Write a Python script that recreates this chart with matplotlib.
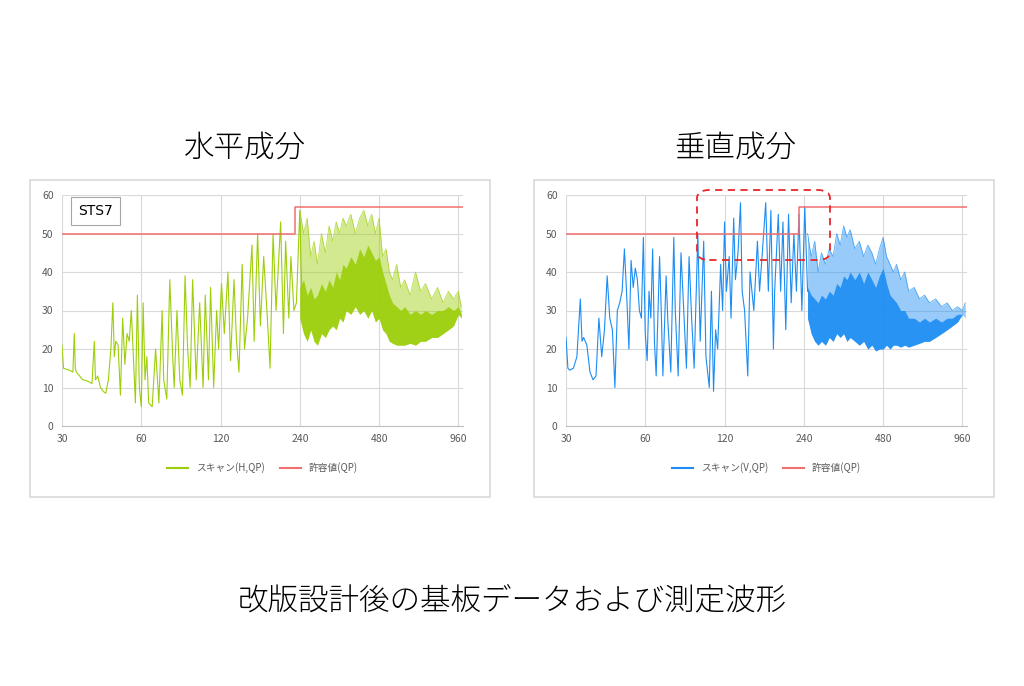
import matplotlib.pyplot as plt
from matplotlib.patches import Rectangle, FancyBboxPatch
from matplotlib.ticker import FixedLocator, NullFormatter

plt.rcParams["font.family"] = ["Noto Sans CJK JP", "DejaVu Sans"]

# ---- data ----
tick_freqs = [30, 60, 120, 240, 480, 960]
limit_freq = [30, 230, 230, 1000]
limit_level = [50, 50, 57, 57]

# horizontal scan, discrete part (MHz / dBuV)
h_freq = [30, 30.4, 31, 32, 33, 33.4, 33.7, 34, 35, 36,
          37, 38, 39, 39.8, 40.2, 41, 42, 43, 44, 45,
          46, 46.8, 47.4, 48, 49, 50, 51, 52, 53, 54,
          55, 56, 57, 58, 59, 60, 61, 62, 63, 64,
          66, 68, 70, 72, 73, 75, 77, 79, 80, 82,
          84, 86, 88, 90, 92, 94, 97, 100, 103, 105,
          108, 110, 113, 116, 118, 121, 124, 128, 131, 135,
          138, 141, 145, 148, 152, 158, 161, 166, 170, 175,
          180, 185, 190, 195, 203, 208, 212, 218, 222, 228,
          233, 240, 245]
h_level = [21, 15, 14.8, 14.5, 14, 24, 15, 14, 13, 12,
           11.8, 11.5, 11, 22, 12, 13, 10, 9, 8.5, 12,
           20, 32, 18, 22, 21, 8, 28, 16, 24, 22,
           30, 18, 6, 34, 10, 5, 32, 12, 18, 6,
           5, 20, 6, 30, 12, 7, 38, 18, 10, 30,
           12, 8, 39, 20, 10, 38, 12, 32, 10, 34,
           12, 36, 10, 30, 20, 37, 24, 40, 17, 38,
           22, 14, 42, 20, 28, 47, 22, 50, 26, 44,
           30, 15, 50, 30, 53, 24, 48, 28, 44, 30,
           32, 56, 30]
# dense part: upper / lower envelope and the dark core band
h_env_f = [240, 248, 256, 264, 272, 280, 290, 300, 310, 320,
           330, 340, 350, 360, 375, 390, 405, 420, 435, 450,
           465, 480, 495, 510, 525, 540, 560, 580, 600, 630,
           660, 690, 720, 760, 800, 840, 880, 920, 960, 985]
h_env_hi = [56, 50, 54, 44, 48, 42, 50, 45, 52, 48,
            53, 50, 54, 52, 55, 50, 54, 56, 52, 55,
            50, 54, 44, 46, 40, 38, 42, 36, 38, 34,
            40, 35, 37, 33, 36, 32, 35, 33, 35, 31]
h_env_lo = [28, 24, 22, 25, 22, 21, 24, 23, 25, 26,
            25, 28, 27, 30, 29, 31, 29, 30, 28, 30,
            27, 28, 25, 24, 22, 21.5, 21, 21, 21, 21.5,
            21, 22, 22, 23, 23, 24, 25, 26, 29, 28]
h_core_hi = [36, 38, 34, 36, 33, 34, 37, 35, 38, 36,
             40, 38, 42, 41, 44, 42, 46, 44, 47, 45,
             43, 44, 40, 37, 34, 32, 31, 30, 31, 29,
             30, 29, 30, 29, 30, 30, 31, 30, 31, 29]

# vertical scan, discrete part
v_freq = [30, 30.5, 31, 32, 33, 34, 34.5, 35, 36, 37,
          38, 39, 40, 41, 42, 43, 44, 45, 46, 47,
          48, 49, 50, 51, 52, 53, 54, 55, 56, 57,
          58, 59, 60, 61, 62, 63, 64, 65, 66, 68,
          69, 70, 72, 73, 75, 77, 78, 80, 82, 84,
          86, 88, 90, 92, 95, 97, 100, 102, 105, 107,
          109, 111, 113, 116, 118, 120, 122, 125, 127, 130,
          132, 135, 138, 140, 143, 147, 150, 155, 160, 163,
          167, 172, 176, 180, 184, 186, 192, 196, 200, 205,
          210, 215, 220, 225, 230, 236, 242, 248]
v_level = [23, 15, 14.5, 15, 18, 33, 22, 23, 21, 14,
           12, 13, 28, 18, 25, 39, 28, 25, 10, 30,
           32, 35, 46, 34, 20, 43, 36, 41, 38, 30,
           28, 49, 24, 17, 35, 28, 46, 22, 13, 44,
           30, 13, 39, 28, 14, 49, 30, 13, 45, 30,
           15, 44, 28, 15, 50, 22, 48, 18, 10, 35,
           9, 25, 20, 42, 30, 53, 35, 44, 28, 54,
           38, 45, 58, 35, 30, 13, 40, 30, 48, 35,
           45, 58, 35, 56, 20, 35, 55, 35, 53, 25,
           55, 32, 50, 35, 55, 30, 57, 35]
v_env_f = [248, 256, 264, 272, 280, 290, 300, 310, 320, 330,
           340, 350, 360, 375, 390, 405, 420, 435, 450, 465,
           480, 495, 510, 525, 540, 560, 580, 600, 630, 660,
           690, 720, 760, 800, 840, 880, 920, 960, 985]
v_env_hi = [50, 44, 48, 40, 45, 42, 46, 44, 50, 47,
            52, 49, 51, 46, 48, 44, 47, 45, 42, 46,
            49, 44, 42, 40, 42, 38, 40, 35, 36, 33,
            34, 32, 33, 31, 32, 30, 31, 30, 32]
v_env_lo = [28, 24, 22, 21, 22, 21, 23, 22, 24, 23,
            24, 22, 23, 22, 21, 22, 20, 21, 19.5, 20,
            20, 21, 20, 21, 21, 20.5, 21, 20.5, 21, 21.5,
            22, 22, 23, 24, 25, 26, 27, 29, 28]
v_core_hi = [36, 34, 33, 32, 34, 33, 35, 34, 37, 36,
             39, 38, 40, 38, 40, 37, 40, 38, 36, 39,
             41, 37, 34, 33, 32, 30, 30, 28, 28, 27,
             28, 27, 28, 27, 28, 28, 29, 29, 28]

GREEN = "#9ccf0a"
BLUE = "#1c8df2"
RED = "#f07070"

fig = plt.figure(figsize=(10.24, 6.86), dpi=100)


def fx(px):
    return px / 1024


def fy(py):
    return 1 - py / 686


def panel(left_px, freq, level, env_f, hi, lo, core, color, label, title, title_x):
    # card frame
    fig.patches.append(Rectangle((fx(left_px - 32), fy(497)), fx(460), fy(180) - fy(497),
                                 transform=fig.transFigure, fill=False,
                                 edgecolor="#d9d9d9", lw=1.2))
    ax = fig.add_axes([fx(left_px), fy(426), fx(401), fy(195) - fy(426)])
    ax.set_xscale("log", base=2)
    ax.fill_between(env_f, lo, hi, color=color, alpha=0.45, lw=0)
    ax.fill_between(env_f, lo, core, color=color, alpha=0.9, lw=0)
    ax.plot(env_f, hi, color=color, lw=0.6, alpha=0.7)
    ax.plot(freq, level, color=color, lw=0.8)
    ax.plot(limit_freq, limit_level, color=RED, lw=1.1)
    ax.plot([], [], color=color, lw=1.5, label=label)
    ax.plot([], [], color=RED, lw=1.5, label="許容値(QP)")
    ax.set_xlim(30, 1000)
    ax.set_ylim(0, 60)
    ax.xaxis.set_major_locator(FixedLocator(tick_freqs))
    ax.set_xticklabels([str(t) for t in tick_freqs])
    ax.xaxis.set_minor_formatter(NullFormatter())
    ax.xaxis.set_minor_locator(FixedLocator([]))
    ax.set_yticks(range(0, 61, 10))
    ax.grid(True, color="#d9d9d9", lw=0.8)
    ax.set_axisbelow(True)
    for s in ["top", "right", "left"]:
        ax.spines[s].set_visible(False)
    ax.spines["bottom"].set_color("#bfbfbf")
    ax.tick_params(length=0, labelsize=7.5, colors="#595959", pad=6)
    ax.legend(loc="upper center", bbox_to_anchor=(0.5, -0.12), ncol=2, frameon=False,
              fontsize=7, labelcolor="#595959", handlelength=2.2, columnspacing=1.5)
    fig.text(fx(title_x), fy(148), title, ha="center", va="center", fontsize=22,
             fontweight="light")
    return ax


ax_h = panel(62, h_freq, h_level, h_env_f, h_env_hi, h_env_lo, h_core_hi,
             GREEN, "スキャン(H,QP)", "水平成分", 245)
ax_h.text(0.04, 0.93, "STS7", transform=ax_h.transAxes, fontsize=10, va="center",
          family="DejaVu Sans",
          bbox=dict(boxstyle="square,pad=0.5", fc="white", ec="#a6a6a6", lw=0.8))

ax_v = panel(566, v_freq, v_level, v_env_f, v_env_hi, v_env_lo, v_core_hi,
             BLUE, "スキャン(V,QP)", "垂直成分", 735)

fig.patches.append(FancyBboxPatch((fx(697), fy(260)), fx(133), fy(190) - fy(260),
                                  boxstyle="round,pad=0,rounding_size=0.012",
                                  transform=fig.transFigure, fill=False,
                                  edgecolor="#e8262b", lw=1.3, ls=(0, (4, 3))))

fig.text(0.5, fy(600), "改版設計後の基板データおよび測定波形", ha="center", va="center",
         fontsize=22, fontweight="light")

fig.savefig("out.png", dpi=100)
